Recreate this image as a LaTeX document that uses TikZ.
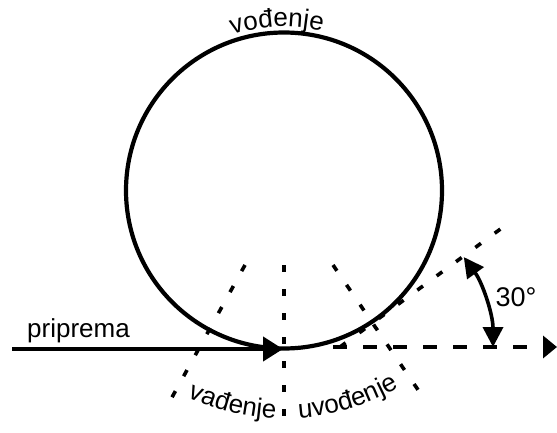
\documentclass[tikz,border=0pt]{standalone}
\usepackage{fontspec}
\setmainfont{Liberation Sans}
\usetikzlibrary{arrows.meta,decorations.text,calc}
\newcommand\lblfont{\fontsize{26}{26}\selectfont}
\begin{document}
\begin{tikzpicture}[x=1pt,y=1pt,
  heavy/.style={line width=4.2pt},
  dotline/.style={line width=3.6pt,dash pattern=on 7pt off 17pt},
  dashline/.style={line width=3.6pt,dash pattern=on 14pt off 16pt},
  lbl/.style={font=\lblfont,inner sep=0pt},
  curvedlbl/.style={decorate,decoration={text along path,text={|\lblfont|#1},text align=center}}]
\useasboundingbox (0,0) rectangle (557,432);
% key points
\coordinate (C) at (284,241.5);
\coordinate (T) at (283,83);
\coordinate (S) at (12,83);
\coordinate (D0) at (333,85);
\coordinate (D1) at (557,85);
\coordinate (V) at (340,85);
\coordinate (V1) at (510,210);
\coordinate (M0) at (284,167);
\coordinate (M1) at (284,0);
\coordinate (L0) at (245,167);
\coordinate (L1) at (165,22);
\coordinate (R0) at (333,167);
\coordinate (R1) at (427,29);
% circle
\draw[heavy] (C) circle[radius=158pt];
% preparation line
\draw[heavy,-{Triangle[length=20pt,width=24pt]}] (S) -- (T);
% outgoing dashed line
\draw[dashline,-{Triangle[length=14pt,width=22pt]}] (D0) -- (D1);
% dotted lines
\draw[dotline] (M0) -- (M1);
\draw[dotline] (L0) -- (L1);
\draw[dotline] (R0) -- (R1);
\draw[dotline] (V) -- (V1);
% angle arc
\draw[line width=3.6pt,{Triangle[length=20pt,width=20pt]}-{Triangle[length=20pt,width=20pt]}]
  ($(V)+(0:153pt)$) arc[start angle=0,end angle=36,radius=153pt];
% labels
\node[lbl,anchor=base west] (pri) at (27,95) {priprema};
\node[lbl,font=\fontsize{27}{27}\selectfont] (deg) at (516,135) {30°};
\path[curvedlbl={vođenje}] ($(C)+(122.4:164pt)$) arc[start angle=122.4,end angle=62.4,radius=164pt];
\path[curvedlbl={vađenje}] ($(C)+(236.5:228pt)$) arc[start angle=236.5,end angle=276.5,radius=228pt];
\path[curvedlbl={uvođenje}] ($(C)+(267:228pt)$) arc[start angle=267,end angle=307,radius=228pt];
\end{tikzpicture}
\end{document}
